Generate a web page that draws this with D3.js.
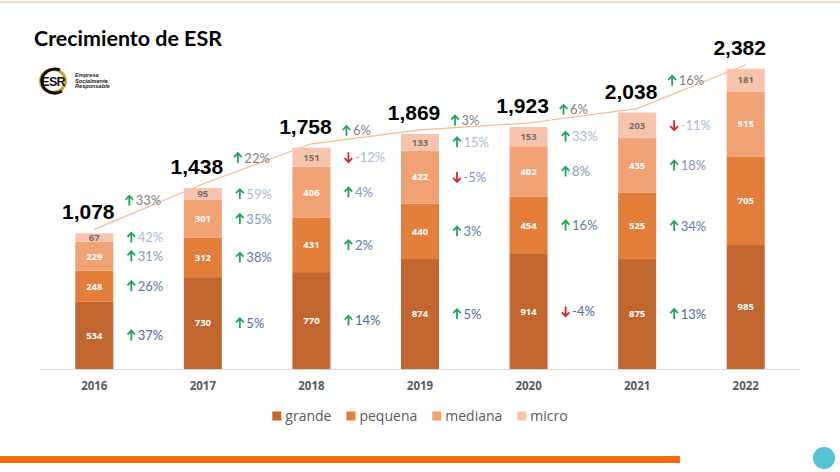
<!DOCTYPE html>
<html><head><meta charset="utf-8">
<script src="https://cdn.jsdelivr.net/npm/d3@7/dist/d3.min.js"></script>
<style>html,body{margin:0;padding:0;background:#fff;}svg{display:block;}</style>
</head><body>
<svg id="c" width="840" height="472"></svg>
<script>
const years = ["2016","2017","2018","2019","2020","2021","2022"];
const grande  = [534, 730, 770, 874, 914, 875, 985];
const pequena = [248, 312, 431, 440, 454, 525, 705];
const mediana = [229, 301, 406, 422, 402, 435, 515];
const micro   = [67, 95, 151, 133, 153, 203, 181];
const totalLabels = ["1,078","1,438","1,758","1,869","1,923","2,038","2,382"];
const growthTotal   = [33, 22, 6, 3, 6, 16];
const growthMicro   = [42, 59, -12, 15, 33, -11];
const growthMediana = [31, 35, 4, -5, 8, 18];
const growthPequena = [26, 38, 2, 3, 16, 34];
const growthGrande  = [37, 5, 14, 5, -4, 13];
const seriesNames = ["grande","pequena","mediana","micro"];

const colors = {grande:"#c1662f", pequena:"#e27d3a", mediana:"#f1a274", micro:"#f6c4ad"};
const growthColors = {total:"#7f7f7f", micro:"#adb7d6", mediana:"#8494c0", pequena:"#5e76aa", grande:"#4f689f"};
const seriesData = {grande, pequena, mediana, micro};
const growthData = {grande:growthGrande, pequena:growthPequena, mediana:growthMediana, micro:growthMicro};

const svg = d3.select("#c");

// decorations
svg.append("line").attr("x1",0).attr("x2",840).attr("y1",2).attr("y2",2)
  .attr("stroke","#eccab6").attr("stroke-width",1.5);
svg.append("rect").attr("x",0).attr("y",456).attr("width",680).attr("height",7).attr("fill","#fa6b0c");
svg.append("circle").attr("cx",824).attr("cy",458).attr("r",11).attr("fill","#55c2d4");

// title
const title = svg.append("text").attr("x",34).attr("y",46)
  .attr("font-family","Lato, 'Open Sans', sans-serif").attr("font-weight","bold")
  .attr("font-size",21).attr("fill","#000").text("Crecimiento de ESR");
{
  const w = title.node().getComputedTextLength();
  title.attr("font-size", 21*188/w);
}

// logo
const logo = svg.append("g");
logo.append("ellipse").attr("cx",53).attr("cy",81).attr("rx",12.5).attr("ry",11.5)
  .attr("fill","#fff").attr("stroke","#c9a23a").attr("stroke-width",3);
logo.append("path").attr("d","M 60 70 A 13 12 0 1 0 62 91").attr("fill","none")
  .attr("stroke","#111").attr("stroke-width",3);
logo.append("text").attr("x",53).attr("y",86).attr("text-anchor","middle")
  .attr("font-family","Liberation Sans, Arial, sans-serif").attr("font-weight","bold")
  .attr("font-size",12.5).attr("fill","#111").attr("letter-spacing",-0.8).text("ESR");
["Empresa","Socialmente","Responsable"].forEach((t,i)=>{
  logo.append("text").attr("x",75).attr("y",77+i*5.6)
    .attr("font-family","Liberation Sans, Arial, sans-serif").attr("font-style","italic").attr("font-weight","bold")
    .attr("font-size",5.6).attr("fill","#222").text(t);
});

// scales
const x = d3.scaleBand().domain(years).range([40,800]).paddingInner(0.65).paddingOuter(0.325);
const y = d3.scaleLinear().domain([0,2400]).range([369,67]);
const bw = x.bandwidth();

// stack
const rows = years.map((yr,i)=>({year:yr, grande:grande[i], pequena:pequena[i], mediana:mediana[i], micro:micro[i]}));
const stack = d3.stack().keys(seriesNames)(rows);
const tops = rows.map((r,i)=> stack[stack.length-1][i][1]);

// trend line (behind bars)
const linePts = years.map((yr,i)=>[x(yr)+bw/2, y(tops[i])-4]);
svg.append("path").attr("d", d3.line()(linePts)).attr("fill","none")
  .attr("stroke","#f3b994").attr("stroke-width",1.2);

// axis
const axisG = svg.append("g").attr("transform","translate(0,369)")
  .call(d3.axisBottom(x).tickSize(0).tickPadding(13));
axisG.select(".domain").attr("stroke","#d9d9d9").attr("stroke-width",1);
axisG.selectAll("text").attr("font-family","'Open Sans', sans-serif").attr("font-weight","bold")
  .attr("font-size",11.5).attr("fill","#595959");

// bars
const layer = svg.append("g").selectAll("g").data(stack).join("g")
  .attr("fill", d=>colors[d.key]);
layer.selectAll("rect").data(d=>d).join("rect")
  .attr("x", d=>x(d.data.year)).attr("width", bw)
  .attr("y", d=>y(d[1])).attr("height", d=>y(d[0])-y(d[1]));

// segment labels
stack.forEach(s=>{
  svg.append("g").selectAll("text").data(s).join("text")
    .attr("x", d=>x(d.data.year)+bw/2)
    .attr("y", d=>(y(d[0])+y(d[1]))/2)
    .attr("dy","0.35em").attr("text-anchor","middle")
    .attr("font-family","'Open Sans', sans-serif").attr("font-weight","bold").attr("font-size",9.5)
    .attr("fill", s.key==="micro" ? "#7b6b64" : "#fff")
    .text(d=>d.data[s.key]);
});

// total labels
svg.append("g").selectAll("text").data(totalLabels).join("text")
  .attr("x",(d,i)=>x(years[i])+bw/2-6).attr("y",(d,i)=>y(tops[i])-14)
  .attr("text-anchor","middle").attr("font-family","Liberation Sans, Arial, sans-serif")
  .attr("font-weight","bold").attr("font-size",21).attr("fill","#000").text(d=>d);

// arrows
function arrow(g, ax, ay, up){
  const c = up ? "#21a35b" : "#d8232a";
  const s = up ? 1 : -1;
  g.append("path")
    .attr("d",`M ${ax} ${ay+5*s} L ${ax} ${ay-4.8*s} M ${ax-3.8} ${ay-0.8*s} L ${ax} ${ay-4.8*s} L ${ax+3.8} ${ay-0.8*s}`)
    .attr("fill","none").attr("stroke",c).attr("stroke-width",1.8);
}
function growthLabel(ax, ay, v, col){
  const g = svg.append("g");
  arrow(g, ax, ay, v>=0);
  g.append("text").attr("x",ax+6.5).attr("y",ay).attr("dy","0.36em")
    .attr("font-family","Lato, 'Open Sans', sans-serif").attr("font-size",13)
    .attr("fill",col).text((v<0? "-" + Math.abs(v) : v) + "%");
}

growthTotal.forEach((v,i)=>{
  const bx = x(years[i])+bw;
  const ay = (y(tops[i])+y(tops[i+1]))/2 - 10;
  growthLabel(bx+16, ay, v, growthColors.total);
});
stack.forEach(s=>{
  const arr = growthData[s.key];
  arr.forEach((v,i)=>{
    const d = s[i];
    const bx = x(years[i])+bw;
    growthLabel(bx+18, (y(d[0])+y(d[1]))/2, v, growthColors[s.key]);
  });
});

// legend
const leg = svg.append("g");
let lx = 0;
seriesNames.forEach(k=>{
  const it = leg.append("g").attr("transform",`translate(${lx},0)`);
  it.append("rect").attr("x",0).attr("y",-4.5).attr("width",9).attr("height",9).attr("fill",colors[k]);
  const t = it.append("text").attr("x",13).attr("y",0).attr("dy","0.34em")
    .attr("font-family","'Open Sans', sans-serif").attr("font-size",14).attr("fill","#595959").text(k);
  lx += 13 + t.node().getComputedTextLength() + 15;
});
const legW = lx - 15;
leg.attr("transform",`translate(${420-legW/2},416)`);
</script>
</body></html>
